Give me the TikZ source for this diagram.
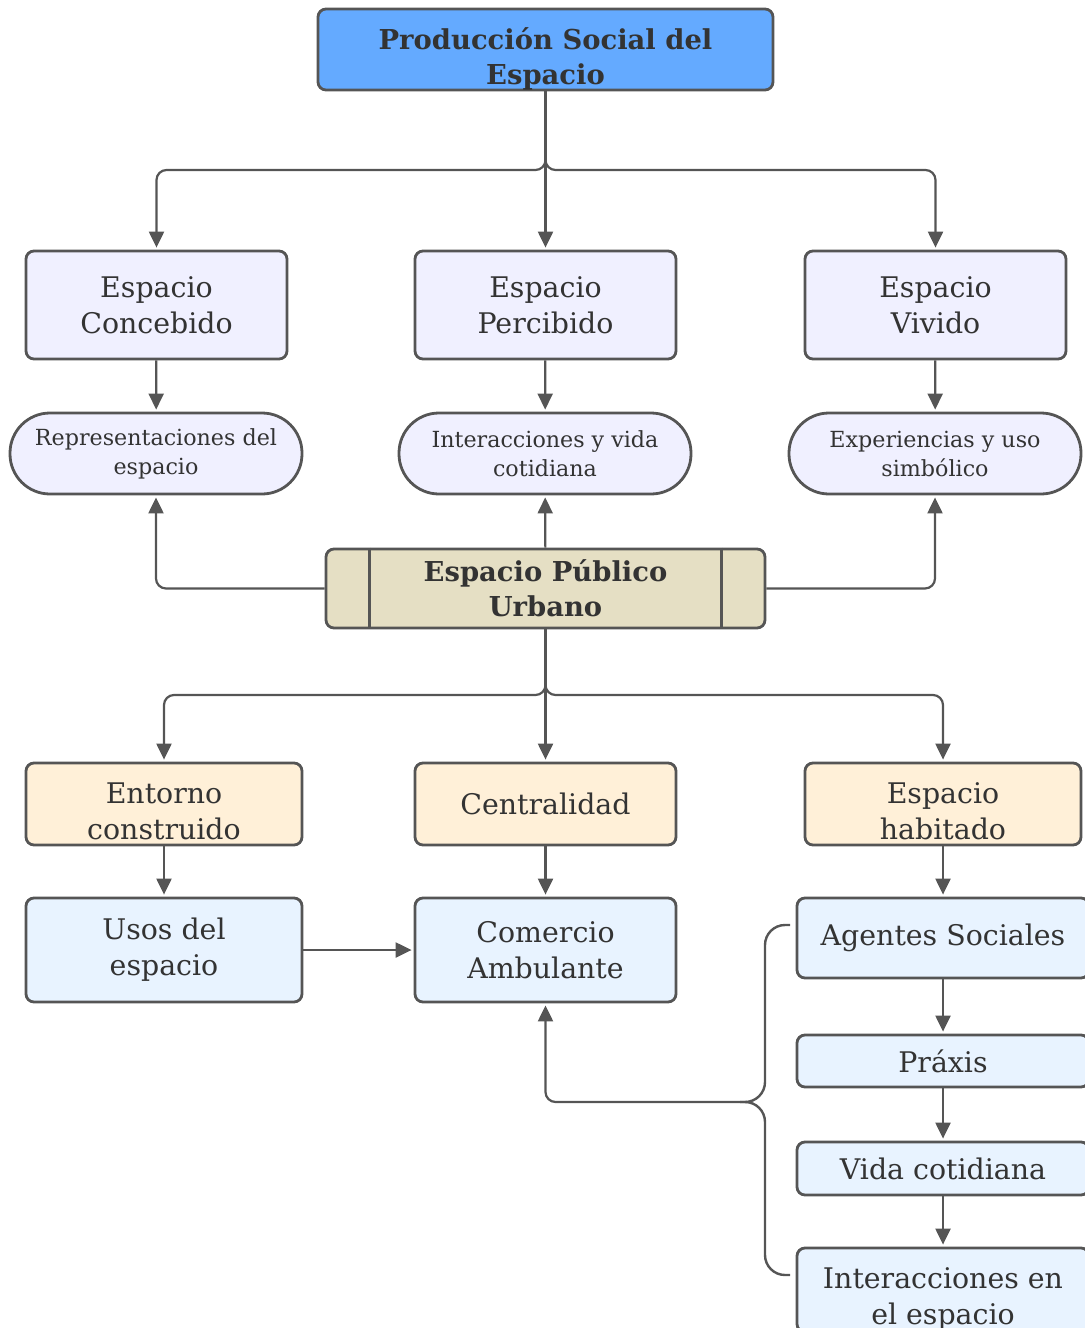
\documentclass[tikz,border=0pt]{standalone}
\usepackage{fontspec}
\setmainfont{DejaVu Serif}
\usetikzlibrary{arrows.meta}

\definecolor{linec}{RGB}{85,85,85}
\definecolor{textc}{RGB}{51,51,51}
\definecolor{prodc}{RGB}{100,170,255}
\definecolor{lavc}{RGB}{240,240,255}
\definecolor{epuc}{RGB}{229,223,196}
\definecolor{factc}{RGB}{255,240,216}
\definecolor{usec}{RGB}{232,243,255}

\begin{document}
\begin{tikzpicture}
[x=0.5pt,y=-0.5pt,
 base/.style={draw=linec,line width=1.4pt,rounded corners=4pt,text=textc,align=center,inner sep=2pt,font=\fontsize{14.2}{18}\selectfont},
 txt/.style={text=textc,align=center,inner sep=0pt,font=\fontsize{14.2}{18}\selectfont},
 topbox/.style={base,fill=prodc,minimum width=227.5pt,minimum height=40.5pt},
 kindbox/.style={base,fill=lavc,minimum width=130.5pt,minimum height=54pt},
 pill/.style={base,fill=lavc,rounded corners=20pt,minimum width=146pt,minimum height=40.5pt,font=\fontsize{11.1}{14.5}\selectfont},
 epubox/.style={base,fill=epuc,minimum width=219.5pt,minimum height=39.5pt,font=\fontsize{13.7}{17.5}\selectfont\bfseries},
 factbox/.style={base,fill=factc,minimum height=41pt},
 usebox/.style={base,fill=usec,minimum height=52pt},
 stepbox/.style={base,fill=usec,minimum width=146pt},
 line/.style={draw=linec,line width=1.2pt},
 arr/.style={draw=linec,line width=1.1pt,-{Triangle[length=8pt,width=7.5pt]},rounded corners=5pt,shorten >=1pt}]
\useasboundingbox (0,0) rectangle (1084,1328);

% top
\node[topbox] (prod) at (545.5,49.5) {};
\node[txt,font=\fontsize{13.7}{17.5}\selectfont\bfseries] (prod-t) at ([yshift=-4.5pt]prod.center) {Producción Social del\\Espacio};

% three spaces
\node[kindbox] (conc) at (156.5,305) {Espacio\\Concebido};
\node[kindbox] (perc) at (545.5,305) {Espacio\\Percibido};
\node[kindbox] (viv) at (935.5,305) {Espacio\\Vivido};

\node[pill] (repr) at (156,453.5) {Representaciones del\\espacio};
\node[pill] (inter) at (545,453.5) {Interacciones y vida\\cotidiana};
\node[pill] (exper) at (935,453.5) {Experiencias y uso\\simbólico};

% centre
\node[epubox] (epu) at (545.5,588.5) {Espacio Público\\Urbano};
\draw[line] ([xshift=22.5pt]epu.north west) -- ([xshift=22.5pt]epu.south west);
\draw[line] ([xshift=-22.5pt]epu.north east) -- ([xshift=-22.5pt]epu.south east);

% lower part
\node[factbox,minimum width=138pt] (ent) at (164,804) {};
\node[txt] (ent-t) at ([yshift=-3.5pt]ent.center) {Entorno\\construido};
\node[factbox,minimum width=130.5pt] (cent) at (545.5,804) {Centralidad};
\node[factbox,minimum width=138pt] (hab) at (943,804) {};
\node[txt] (hab-t) at ([yshift=-3.5pt]hab.center) {Espacio\\habitado};

\node[usebox,minimum width=138pt] (usos) at (164,950) {Usos del\\espacio};
\node[usebox,minimum width=130.5pt] (com) at (545.5,950) {Comercio\\Ambulante};

\node[stepbox,minimum height=40pt] (ag) at (943,938) {Agentes Sociales};
\node[stepbox,minimum height=26pt] (prax) at (943,1061) {Práxis};
\node[stepbox,minimum height=26.5pt] (vida) at (943,1168.5) {Vida cotidiana};
\node[stepbox,minimum height=42pt] (intesp) at (943,1290) {};
\node[txt] (intesp-t) at ([yshift=-4.5pt]intesp.center) {Interacciones en\\el espacio};

% connectors
\coordinate (b1) at (545.5,170);
\coordinate (b2) at (545.5,695);
\coordinate (tip) at (740,1102);

\draw[arr] (prod) -- (b1) -| (conc);
\draw[arr] (prod) -- (perc);
\draw[arr] (prod) -- (b1) -| (viv);

\draw[arr] (conc) -- (repr);
\draw[arr] (perc) -- (inter);
\draw[arr] (viv) -- (exper);

\draw[arr] (epu) -| (repr);
\draw[arr] (epu) -- (inter);
\draw[arr] (epu) -| (exper);

\draw[arr] (epu) -- (b2) -| (ent);
\draw[arr] (epu) -- (cent);
\draw[arr] (epu) -- (b2) -| (hab);

\draw[arr] (ent) -- (usos);
\draw[arr] (cent) -- (com);
\draw[arr] (hab) -- (ag);
\draw[arr] (usos) -- (com);

\draw[arr] (ag) -- (prax);
\draw[arr] (prax) -- (vida);
\draw[arr] (vida) -- (intesp);

% brace
\draw[line,rounded corners=10pt] (790,925) -| (765,1102) -- (tip);
\draw[line,rounded corners=10pt] (790,1275) -| (765,1102) -- (tip);
\draw[arr] (tip) -| (com);
\end{tikzpicture}
\end{document}
